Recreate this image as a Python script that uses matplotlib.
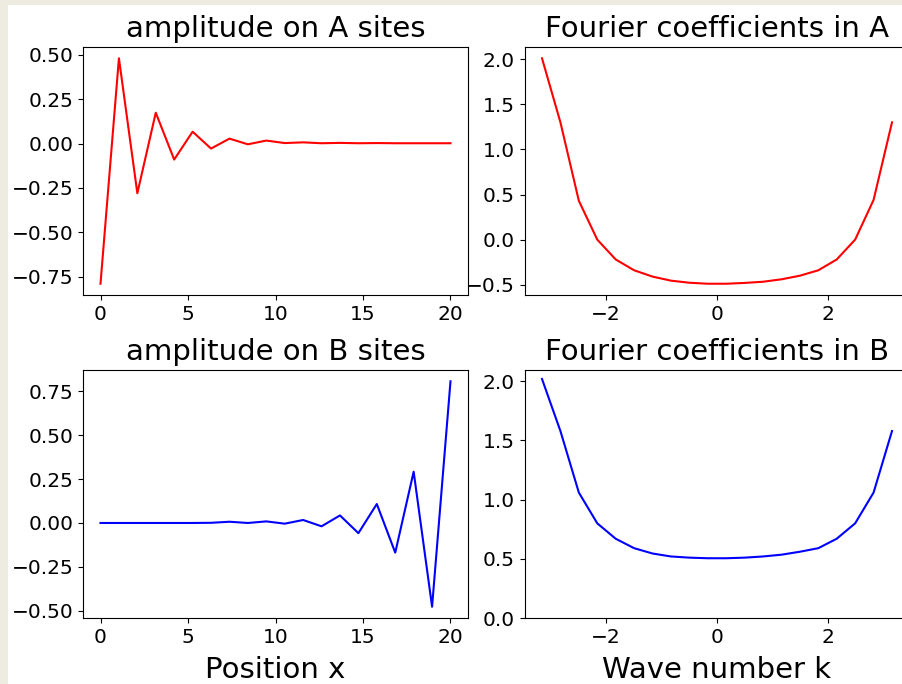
import numpy as np
import matplotlib
matplotlib.use("Agg")
import matplotlib.pyplot as plt
from matplotlib.patches import Rectangle

# ---- data ----
n_sites = 20
x_pos = np.linspace(0, 20, n_sites)
amp_A = [-0.79, 0.481, -0.28, 0.174, -0.09, 0.067, -0.028, 0.028, -0.004, 0.017,
         0.003, 0.007, 0.002, 0.004, 0.002, 0.003, 0.002, 0.002, 0.002, 0.002]
amp_B = [0.0, 0.0, 0.0, 0.0, 0.0, 0.0, 0.001, 0.007, 0.0, 0.009,
         -0.004, 0.017, -0.019, 0.043, -0.058, 0.108, -0.169, 0.292, -0.477, 0.807]
k_vals = np.linspace(-np.pi, np.pi, n_sites)
four_A = [2.01, 1.30, 0.43, 0.0, -0.22, -0.34, -0.41, -0.455, -0.478, -0.489,
          -0.489, -0.48, -0.467, -0.44, -0.40, -0.34, -0.22, 0.0, 0.44, 1.30]
four_B = [2.02, 1.58, 1.06, 0.80, 0.67, 0.59, 0.545, 0.52, 0.51, 0.505,
          0.505, 0.51, 0.52, 0.535, 0.56, 0.59, 0.67, 0.80, 1.06, 1.58]

titles = ["amplitude on A sites", "Fourier coefficients in A",
          "amplitude on B sites", "Fourier coefficients in B"]
pos_ticks = [0, 5, 10, 15, 20]
k_ticks = [-2, 0, 2]

W, H = 902, 684
fig = plt.figure(figsize=(W / 100, H / 100), dpi=100)
fig.patch.set_facecolor("white")

# beige screenshot border on left and top
fig.patches.append(Rectangle((0, 0), 8 / W, 1, transform=fig.transFigure,
                             facecolor="#EEEBE1", edgecolor="none", zorder=-10))
fig.patches.append(Rectangle((0, 1 - 5 / H), 1, 5 / H, transform=fig.transFigure,
                             facecolor="#EEEBE1", edgecolor="none", zorder=-10))

aw, ah = 385 / W, 248 / H
lx, rx = 83 / W, 524.5 / W
ty, by = (H - 295) / H, (H - 618) / H

ax1 = fig.add_axes([lx, ty, aw, ah])
ax2 = fig.add_axes([rx, ty, aw, ah])
ax3 = fig.add_axes([lx, by, aw, ah])
ax4 = fig.add_axes([rx, by, aw, ah])

tick_fs = 14.5
title_fs = 21

ax1.plot(x_pos, amp_A, color="red")
ax2.plot(k_vals, four_A, color="red")
ax3.plot(x_pos, amp_B, color="blue")
ax4.plot(k_vals, four_B, color="blue")
ax4.set_ylim(bottom=0)

for ax, t in zip([ax1, ax2, ax3, ax4], titles):
    ax.set_title(t, fontsize=title_fs, pad=7)
    ax.tick_params(labelsize=tick_fs)

for ax in (ax1, ax3):
    ax.set_xticks(pos_ticks)
for ax in (ax2, ax4):
    ax.set_xticks(k_ticks)

ax1.set_yticks([-0.75, -0.5, -0.25, 0.0, 0.25, 0.5])
ax1.set_yticklabels(["\u22120.75", "\u22120.50", "\u22120.25", "0.00", "0.25", "0.50"])
ax3.set_yticks([-0.5, -0.25, 0.0, 0.25, 0.5, 0.75])
ax3.set_yticklabels(["\u22120.50", "\u22120.25", "0.00", "0.25", "0.50", "0.75"])
ax2.set_yticks([-0.5, 0.0, 0.5, 1.0, 1.5, 2.0])
ax4.set_yticks([0.0, 0.5, 1.0, 1.5, 2.0])

ax3.set_xlabel("Position x", fontsize=title_fs, labelpad=7)
ax4.set_xlabel("Wave number k", fontsize=title_fs, labelpad=7)

fig.savefig("out.png", dpi=100)
